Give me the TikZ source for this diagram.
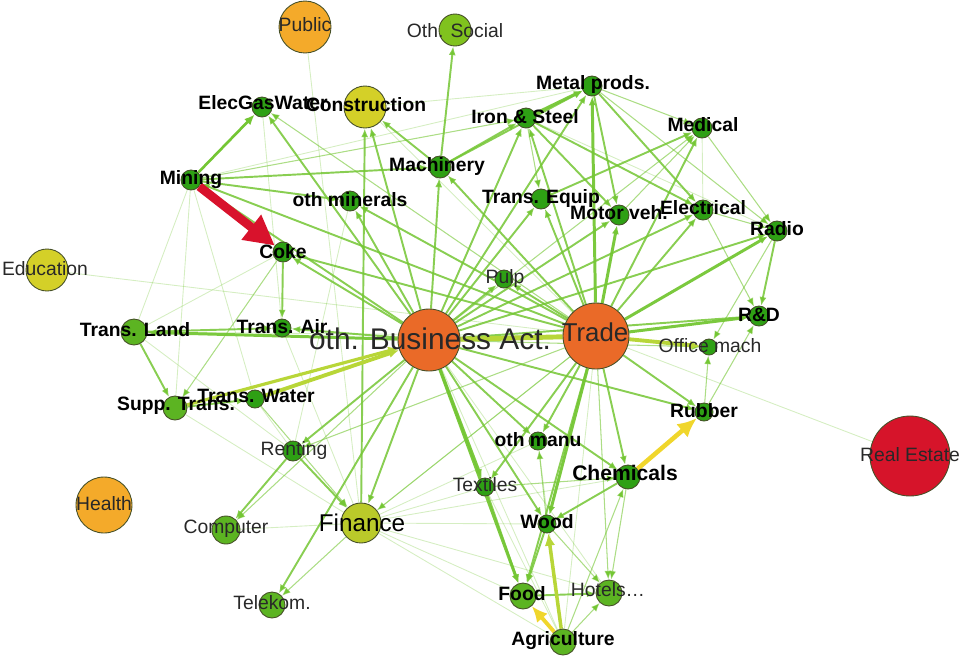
\documentclass[tikz,border=0pt]{standalone}
\usepackage{fontspec}
\setmainfont{Liberation Sans}
\usetikzlibrary{arrows.meta,backgrounds}

% node fills
\definecolor{cdg}{RGB}{46,160,20}
\definecolor{clg}{RGB}{92,180,34}
\definecolor{csoc}{RGB}{128,194,30}
\definecolor{cyel}{RGB}{212,208,40}
\definecolor{cfin}{RGB}{186,202,42}
\definecolor{cpub}{RGB}{244,170,42}
\definecolor{corg}{RGB}{234,106,40}
\definecolor{cred}{RGB}{214,20,42}
\definecolor{cline}{RGB}{70,80,40}
% edge colours
\definecolor{cedge}{RGB}{116,198,52}
\definecolor{cyedge}{RGB}{240,214,44}
\definecolor{cygedge}{RGB}{184,214,56}
\definecolor{credge}{RGB}{216,18,44}
\definecolor{ctxt}{RGB}{40,40,40}

\tikzset{
  dot/.style={circle,draw=cline,line width=0.5pt,inner sep=0pt,minimum size=#1*0.4mm},
  lb/.style={inner sep=0pt,text=black,font=\bfseries\fontsize{11}{13}\selectfont},
  lr/.style={inner sep=0pt,text=ctxt,font=\fontsize{11}{13}\selectfont},
  tip/.style={-{Latex[length=5pt,width=4pt]}},
  ethick/.style={tip,draw=cedge,line width=1.7pt,draw opacity=0.95},
  emed/.style={tip,draw=cedge,line width=1.1pt,draw opacity=0.85},
  ethin/.style={tip,draw=cedge,line width=0.6pt,draw opacity=0.6},
  efaint/.style={draw=cedge,line width=0.5pt,draw opacity=0.3},
}

\begin{document}
\begin{tikzpicture}[x=0.02cm,y=-0.02cm]
\useasboundingbox (0,0) rectangle (960,657);

% sector circles
\node[dot=26,fill=cpub] (public) at (305,27) {};
\node[dot=16,fill=csoc] (othsocial) at (455,30) {};
\node[dot=10,fill=cdg] (elec) at (262,107) {};
\node[dot=21,fill=cyel] (constr) at (365,107) {};
\node[dot=10,fill=cdg] (metal) at (592,86) {};
\node[dot=10,fill=cdg] (iron) at (526,118) {};
\node[dot=10,fill=cdg] (medical) at (702,128) {};
\node[dot=11,fill=cdg] (machinery) at (440,167) {};
\node[dot=10,fill=cdg] (mining) at (191,180) {};
\node[dot=10,fill=cdg] (othmin) at (350,201) {};
\node[dot=10,fill=cdg] (transeq) at (541,199) {};
\node[dot=10,fill=cdg] (motor) at (619,215) {};
\node[dot=10,fill=cdg] (electrical) at (703,210) {};
\node[dot=10,fill=cdg] (radio) at (777,231) {};
\node[dot=10,fill=cdg] (coke) at (283,252) {};
\node[dot=21,fill=cyel] (education) at (47,270) {};
\node[dot=9,fill=cdg] (pulp) at (504,279) {};
\node[dot=13,fill=clg] (transland) at (134,332) {};
\node[dot=9,fill=cdg] (transair) at (282,328) {};
\node[dot=31,fill=corg] (bus) at (429,340) {};
\node[dot=33,fill=corg] (trade) at (596,336) {};
\node[dot=10,fill=cdg] (rnd) at (759,316) {};
\node[dot=8,fill=cdg] (office) at (709,347) {};
\node[dot=12,fill=clg] (supptrans) at (175,408) {};
\node[dot=9,fill=cdg] (transwater) at (255,399) {};
\node[dot=9,fill=cdg] (rubber) at (704,412) {};
\node[dot=10,fill=cdg] (renting) at (293,451) {};
\node[dot=9,fill=cdg] (othmanu) at (538,441) {};
\node[dot=12,fill=cdg] (chemicals) at (628,477) {};
\node[dot=40,fill=cred] (realestate) at (910,456) {};
\node[dot=28,fill=cpub] (health) at (104,505) {};
\node[dot=9,fill=cdg] (textiles) at (485,487) {};
\node[dot=14,fill=clg] (computer) at (226,530) {};
\node[dot=20,fill=cfin] (finance) at (361,523) {};
\node[dot=9,fill=cdg] (wood) at (547,524) {};
\node[dot=13,fill=clg] (food) at (523,596) {};
\node[dot=13,fill=clg] (hotels) at (609,593) {};
\node[dot=13,fill=clg] (telekom) at (272,605) {};
\node[dot=13,fill=clg] (agri) at (563,642) {};

\begin{scope}[on background layer]
% faint links
\foreach \a/\b in {education/trade,public/finance,realestate/trade,computer/finance,
  mining/transland,mining/supptrans,mining/transwater,mining/metal,constr/metal,
  elec/transair,transland/coke,finance/textiles,finance/wood,finance/chemicals,
  finance/food,finance/othmanu,finance/trade,finance/agri,finance/hotels,
  transwater/renting,transland/renting,supptrans/finance,agri/textiles,
  agri/othmanu,bus/hotels,bus/agri,trade/agri,othmin/renting,transair/finance,
  trade/transland,trade/constr,iron/radio,medical/electrical}
  \draw[efaint] (\a) -- (\b);
% thin links
\foreach \a/\b in {bus/medical,bus/computer,bus/office,trade/hotels,trade/finance,
  trade/elec,trade/renting,metal/medical,metal/radio,iron/transeq,motor/medical,
  medical/radio,electrical/radio,radio/office,rubber/rnd,rubber/office,electrical/rnd,
  coke/supptrans,finance/telekom,textiles/chemicals,chemicals/hotels,agri/chemicals,
  wood/hotels,agri/hotels,wood/othmanu,mining/iron,transwater/finance}
  \draw[ethin] (\a) -- (\b);
% medium links
\foreach \a/\b in {bus/machinery,bus/iron,bus/metal,bus/transeq,bus/motor,
  bus/electrical,bus/radio,bus/coke,bus/othmin,bus/elec,bus/constr,bus/mining,
  bus/transair,bus/renting,bus/finance,bus/wood,bus/othmanu,bus/chemicals,
  bus/rubber,bus/pulp,bus/telekom,bus/rnd,
  trade/iron,trade/machinery,trade/transeq,trade/electrical,trade/medical,
  trade/rubber,trade/chemicals,trade/othmanu,trade/food,trade/textiles,trade/coke,
  trade/othmin,trade/mining,trade/pulp,
  machinery/metal,metal/electrical,metal/motor,machinery/iron,iron/motor,
  iron/electrical,machinery/othsocial,mining/machinery,mining/othmin,
  machinery/constr,finance/constr,transeq/medical,radio/rnd,coke/transair,
  transland/supptrans,transland/transair,supptrans/transwater,renting/computer,
  renting/finance,food/hotels,wood/food,textiles/food,chemicals/wood}
  \draw[emed] (\a) -- (\b);
% heavy links
\foreach \a/\b in {bus/transland,bus/textiles,bus/food,trade/metal,trade/motor,
  trade/radio,trade/rnd,trade/wood,iron/metal}
  \draw[ethick] (\a) -- (\b);
% strongest flows
\draw[draw=cygedge,line width=2.8pt] (bus) -- (trade);
\draw[draw=cygedge,line width=2.2pt,-{Latex[length=6pt,width=5pt]}] (trade) -- (office);
\draw[draw=cygedge,line width=2.2pt,-{Latex[length=6pt,width=5pt]}] (transwater) -- (bus);
\draw[draw=cygedge,line width=1.8pt,-{Latex[length=6pt,width=5pt]}] (supptrans) -- (bus);
\draw[draw=cedge,line width=1.5pt,-{Latex[length=6pt,width=5pt]}] (mining) -- (elec);
\draw[draw=cygedge,line width=2pt,-{Latex[length=7pt,width=6pt]}] (agri) -- (wood);
\draw[draw=cyedge,line width=2.2pt,-{Latex[length=9pt,width=8pt]}] (agri) -- (food);
\draw[draw=cyedge,line width=2.6pt,-{Latex[length=11pt,width=10pt]}] (chemicals) -- (rubber);
\draw[draw=credge,line width=5pt,-{Triangle[length=17pt,width=17pt]}] (mining) -- (coke);
\end{scope}

% labels
\node[lr] (public-t) at (305,25) {Public};
\node[lr] (othsocial-t) at (455,31) {Oth. Social};
\node[lb] (elec-t) at (263,103) {ElecGasWater};
\node[lb] (constr-t) at (366,105) {Construction};
\node[lb] (metal-t) at (593,84) {Metal prods.};
\node[lb] (iron-t) at (525,117) {Iron \& Steel};
\node[lb] (medical-t) at (703,125) {Medical};
\node[lb] (machinery-t) at (437,166) {Machinery};
\node[lb] (mining-t) at (191,180) {Mining};
\node[lb] (othmin-t) at (350,200) {oth minerals};
\node[lb] (transeq-t) at (541,198) {Trans. Equip};
\node[lb] (motor-t) at (619,213) {Motor veh.};
\node[lb] (electrical-t) at (703,208) {Electrical};
\node[lb] (radio-t) at (777,229) {Radio};
\node[lb] (coke-t) at (283,252) {Coke};
\node[lr] (education-t) at (45,269) {Education};
\node[lr] (pulp-t) at (505,278) {Pulp};
\node[lb] (transland-t) at (135,330) {Trans. Land};
\node[lb] (transair-t) at (282,327) {Trans. Air};
\node[lr,font=\fontsize{17}{19}\selectfont] (bus-t) at (430,339) {oth. Business Act.};
\node[lr,font=\fontsize{14.7}{17}\selectfont] (trade-t) at (595,332) {Trade};
\node[lb] (rnd-t) at (759,315) {R\&D};
\node[lr] (office-t) at (710,346) {Office mach};
\node[lb] (supptrans-t) at (176,406) {Supp. Trans.};
\node[lb] (transwater-t) at (256,396) {Trans. Water};
\node[lb] (rubber-t) at (704,411) {Rubber};
\node[lr] (renting-t) at (294,450) {Renting};
\node[lb] (othmanu-t) at (538,440) {oth manu};
\node[lb,font=\bfseries\fontsize{12}{14}\selectfont] (chemicals-t) at (625,473) {Chemicals};
\node[lr] (realestate-t) at (910,455) {Real Estate};
\node[lr] (health-t) at (104,504) {Health};
\node[lr] (textiles-t) at (485,485) {Textiles};
\node[lr] (computer-t) at (226,529) {Computer};
\node[lr,font=\fontsize{13.8}{16}\selectfont,text=black] (finance-t) at (362,523) {Finance};
\node[lb] (wood-t) at (547,522) {Wood};
\node[lb] (food-t) at (522,594) {Food};
\node[lr] (hotels-t) at (608,590) {Hotels\ldots};
\node[lr] (telekom-t) at (272,603) {Telekom.};
\node[lb] (agri-t) at (563,641) {Agriculture};
\end{tikzpicture}
\end{document}
